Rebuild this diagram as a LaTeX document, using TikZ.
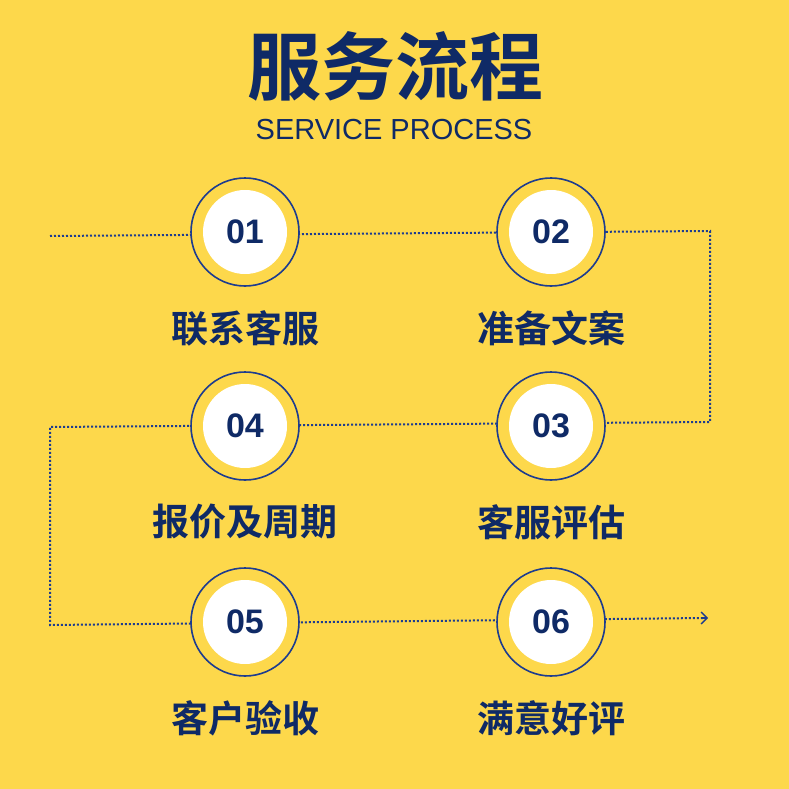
\documentclass[tikz,border=0pt]{standalone}
\usepackage{fontspec}
\newfontfamily\cjk{Noto Sans CJK SC}[BoldFont={* Bold}]
\setmainfont{Liberation Sans}
\usetikzlibrary{arrows.meta,calc}
\definecolor{bg}{HTML}{FDD84B}
\definecolor{navy}{HTML}{0F2A66}
\definecolor{ring}{HTML}{1D3C8F}
\tikzset{
 ringc/.style={circle,draw=ring,line width=1.6pt,minimum size=108pt,inner sep=0pt},
 numc/.style={circle,fill=white,minimum size=84pt,inner sep=0pt,text=navy,font=\fontsize{34}{36}\selectfont\bfseries},
 lab/.style={text=navy,font=\cjk\bfseries\fontsize{37}{40}\selectfont},
 path/.style={ring,line width=2pt,dash pattern=on 2pt off 2pt}
}
\begin{document}
\begin{tikzpicture}[x=1pt,y=-1pt]
\fill[bg] (0,0) rectangle (789,789);
\useasboundingbox (0,0) rectangle (789,789);
\coordinate (s) at (50,236);
\coordinate (c1) at (710,231);
\coordinate (c2) at (710,422);
\coordinate (c3) at (50,427);
\coordinate (c4) at (50,625);
\coordinate (e) at (704,618);
\draw[path] (s) -- (c1) -- (c2) -- (c3) -- (c4) -- (e);
\draw[ring,line width=1.3pt,-{Straight Barb[length=6pt]}] ($(e)+(-2,0)$) -- (708,618);
\foreach \n/\x/\y/\t in {01/245/232/联系客服,02/551/232/准备文案,04/245/426/报价及周期,03/551/426/客服评估,05/245/622/客户验收,06/551/622/满意好评}{
 \node[ringc,fill=bg] (r\n) at (\x,\y) {};
 \node[numc] (n\n) at (\x,\y) {\n};
 \node[lab] (l\n) at (\x,\y+96) {\t};
}
\node[text=navy,font=\cjk\bfseries\fontsize{74}{76}\selectfont] (title) at (395,66) {服务流程};
\node[text=navy,font=\fontsize{29}{31}\selectfont] (sub) at (394,130) {SERVICE PROCESS};
\end{tikzpicture}
\end{document}
